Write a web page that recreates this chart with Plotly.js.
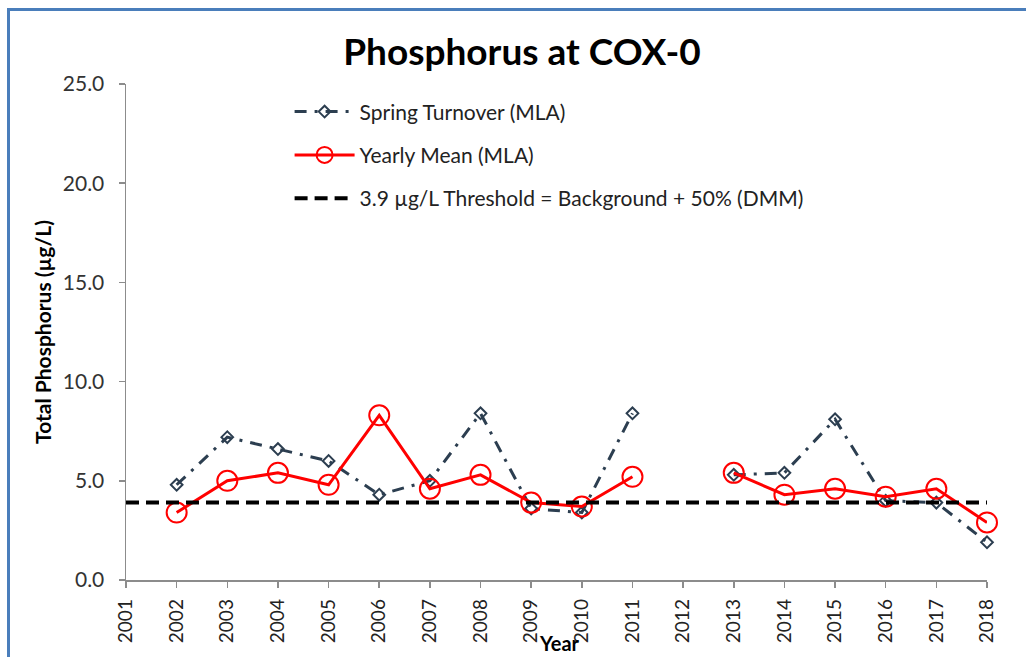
<!DOCTYPE html>
<html>
<head>
<meta charset="utf-8">
<script src="https://cdn.plot.ly/plotly-3.0.1.min.js"></script>
<style>
  html, body { margin: 0; padding: 0; background: #ffffff; }
  #frame { position: absolute; left: 7px; top: 8px; width: 1100px; height: 700px;
           border-top: 3px solid #4A7EBB; border-left: 3px solid #4A7EBB; box-sizing: border-box; }
  #chart { position: absolute; left: 0; top: 0; width: 1026px; height: 657px; }
</style>
</head>
<body>
<div id="frame"></div>
<div id="chart"></div>
<script>
const years = [2002, 2003, 2004, 2005, 2006, 2007, 2008, 2009, 2010, 2011, 2012, 2013, 2014, 2015, 2016, 2017, 2018];
const springTurnover = [4.8, 7.2, 6.6, 6.0, 4.3, 5.0, 8.4, 3.6, 3.4, 8.4, null, 5.3, 5.4, 8.1, 4.0, 3.9, 1.9];
const yearlyMean = [3.4, 5.0, 5.4, 4.8, 8.3, 4.6, 5.3, 3.9, 3.7, 5.2, null, 5.4, 4.3, 4.6, 4.2, 4.6, 2.9];
const thresholdX = [2001, 2018];
const thresholdY = [3.9, 3.9];
const tickYears = [2001, 2002, 2003, 2004, 2005, 2006, 2007, 2008, 2009, 2010, 2011, 2012, 2013, 2014, 2015, 2016, 2017, 2018];
const yTicks = [0, 5, 10, 15, 20, 25];
const yTickLabels = ["0.0", "5.0", "10.0", "15.0", "20.0", "25.0"];

const FONT = "Lato, 'Open Sans', sans-serif";

const traces = [
  {
    x: years, y: springTurnover, name: "Spring Turnover (MLA)", type: "scatter", mode: "lines+markers",
    connectgaps: false, legendgroup: "a",
    line: { color: "#2C3E50", width: 3, dash: "12px,8px,3px,8px" },
    marker: { symbol: "diamond-open", size: 9, color: "#2C3E50", line: { width: 2, color: "#2C3E50" } },
    cliponaxis: false
  },
  {
    x: years, y: yearlyMean, name: "Yearly Mean (MLA)", type: "scatter", mode: "lines+markers",
    connectgaps: false, legendgroup: "b",
    line: { color: "#FF0000", width: 3 },
    marker: { symbol: "circle-open", size: 20, color: "#FF0000", line: { width: 2, color: "#FF0000" } },
    cliponaxis: false
  },
  {
    x: thresholdX, y: thresholdY, name: "3.9 µg/L Threshold = Background + 50% (DMM)", type: "scatter", mode: "lines",
    legendgroup: "c",
    line: { color: "#000000", width: 4, dash: "13px,7px" },
    cliponaxis: false
  }
];

const layout = {
  width: 1026, height: 657,
  paper_bgcolor: "rgba(0,0,0,0)", plot_bgcolor: "rgba(0,0,0,0)",
  margin: { l: 126, r: 39, t: 84, b: 77 },
  font: { family: FONT, color: "#222222" },
  title: { text: "<b>Phosphorus at COX-0</b>", font: { family: FONT, size: 37, color: "#000000" },
           x: 522 / 1026, xanchor: "center", y: 1 - 52 / 657, yanchor: "middle", xref: "container", yref: "container" },
  xaxis: {
    range: [2001, 2018], tickmode: "array", tickvals: tickYears, ticktext: tickYears.map(String),
    tickangle: -90, tickfont: { family: FONT, size: 19, color: "#222222" }, ticklabelstandoff: 4,
    showgrid: false, zeroline: false, showline: true, linecolor: "#8C8C8C", linewidth: 1.5,
    ticks: "outside", ticklen: 6, tickcolor: "#8C8C8C", tickwidth: 1.5, automargin: false
  },
  yaxis: {
    range: [0, 25], tickmode: "array", tickvals: yTicks, ticktext: yTickLabels,
    tickfont: { family: FONT, size: 21, color: "#333333" }, ticklabelstandoff: 10,
    showgrid: false, zeroline: false, showline: true, linecolor: "#8C8C8C", linewidth: 1.5,
    ticks: "outside", ticklen: 6, tickcolor: "#8C8C8C", tickwidth: 1.5, automargin: false,
    title: { text: "<b>Total Phosphorus (µg/L)</b>", font: { family: FONT, size: 21, color: "#000000" }, standoff: 5 }
  },
  showlegend: true,
  legend: {
    x: 0.19, xanchor: "left", y: 0.985, yanchor: "top",
    font: { family: FONT, size: 21, color: "#222222" },
    bgcolor: "rgba(0,0,0,0)", itemwidth: 60, tracegroupgap: 13, traceorder: "grouped"
  },
  annotations: [
    { text: "<b>Year</b>", xref: "paper", yref: "paper", x: 0.503, y: -0.128, xanchor: "center", yanchor: "middle",
      showarrow: false, font: { family: FONT, size: 20, color: "#000000" } }
  ]
};

Plotly.newPlot("chart", traces, layout, { displayModeBar: false, staticPlot: true });
</script>
</body>
</html>
